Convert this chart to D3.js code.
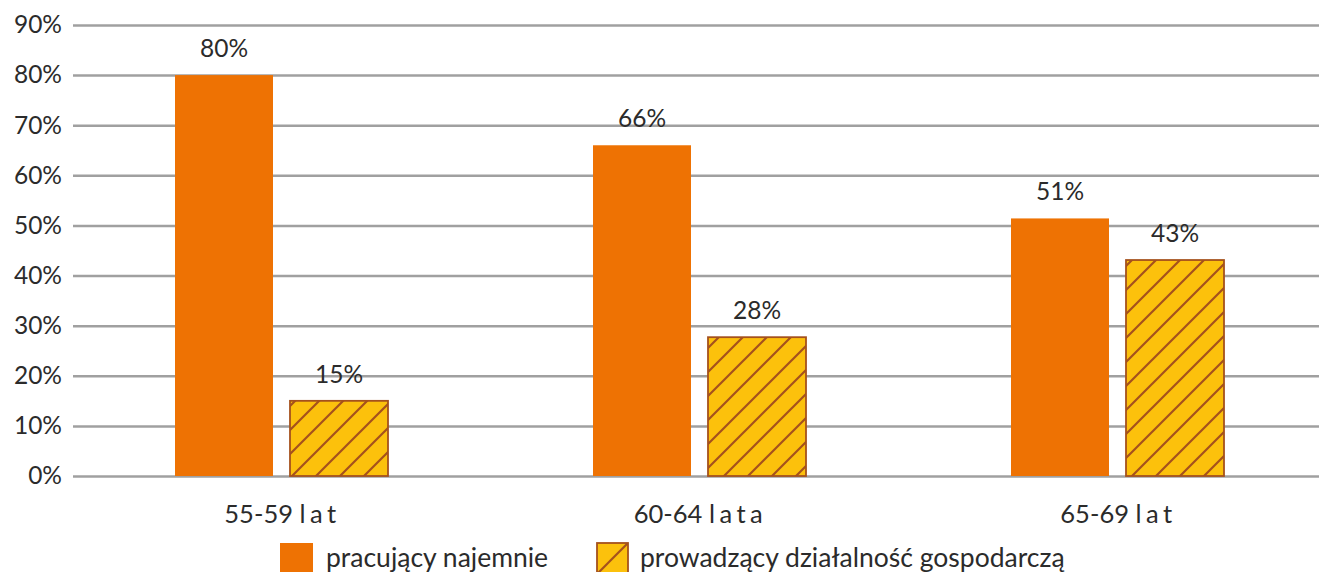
<!DOCTYPE html>
<html><head><meta charset="utf-8">
<script src="https://cdn.jsdelivr.net/npm/d3@7"></script>
<style>
body{margin:0;background:#fff;}
text{font-family:Lato,"Open Sans",sans-serif;fill:#2b2b2b;}
</style></head>
<body><svg id="c" width="1319" height="572"></svg>
<script>
const categories = ["55-59", "60-64", "65-69"];
const categorySuffix = ["lat", "lata", "lat"];
const seriesNames = ["pracujący najemnie", "prowadzący działalność gospodarczą"];
const employed = [80, 66, 51.4];
const selfEmployed = [15, 27.7, 43.1];
const valueLabels = [["80%", "66%", "51%"], ["15%", "28%", "43%"]];
const yTicks = [0, 10, 20, 30, 40, 50, 60, 70, 80, 90];

(function(){
const svg = d3.select("#c");
const mLeft = 73, mRight = 1319, mTop = 25, mBottom = 476;
const orange = "#ee7203", yellow = "#fcc10c", brown = "#a5511c";

const defs = svg.append("defs");
const pat = defs.append("pattern").attr("id","hatch").attr("patternUnits","userSpaceOnUse")
  .attr("width",24).attr("height",24);
pat.append("rect").attr("width",24).attr("height",24).attr("fill",yellow);
pat.append("path").attr("d","M-6,6 L6,-6 M0,24 L24,0 M18,30 L30,18").attr("stroke",brown).attr("stroke-width",2.2);

const x = d3.scaleBand().domain(categories).range([72.5, 1326.5]).paddingInner(0).paddingOuter(0);
const y = d3.scaleLinear().domain([0, 90]).range([mBottom, mTop]);

const yAxis = d3.axisLeft(y).tickValues(yTicks).tickFormat(d => d + "%").tickSize(-(mRight-mLeft)).tickPadding(11);
const ga = svg.append("g").attr("transform",`translate(${mLeft},0)`).call(yAxis);
ga.select(".domain").remove();
ga.selectAll(".tick line").attr("stroke","#a0a0a0").attr("stroke-width",2.5);
ga.selectAll(".tick text").attr("font-size",24.5).attr("fill","#2b2b2b").attr("font-family","Lato");

const barW = 98, gap = 17;
const series = [employed, selfEmployed];
series.forEach((vals, si) => {
  const g = svg.append("g");
  categories.forEach((c, i) => {
    const cx = x(c) + x.bandwidth()/2;
    const bx = si === 0 ? cx - gap/2 - barW : cx + gap/2;
    const v = vals[i];
    g.append("rect").attr("x", bx).attr("y", y(v)).attr("width", barW).attr("height", y(0) - y(v))
      .attr("fill", si === 0 ? orange : "url(#hatch)")
      .attr("stroke", si === 0 ? "none" : brown).attr("stroke-width", si === 0 ? 0 : 1.8);
    g.append("text").attr("x", bx + barW/2).attr("y", y(v) - 18).attr("text-anchor","middle")
      .attr("font-size",24.5).text(valueLabels[si][i]);
  });
});

categories.forEach((c, i) => {
  const t = svg.append("text").attr("x", x(c) + x.bandwidth()/2 + 1).attr("y", 523).attr("text-anchor","middle").attr("font-size",25.5);
  t.append("tspan").text(c + " ");
  t.append("tspan").attr("letter-spacing","4.5px").text(categorySuffix[i]);
});

const lg = svg.append("g");
lg.append("rect").attr("x",280).attr("y",543).attr("width",33).attr("height",33).attr("fill",orange);
lg.append("text").attr("x",326).attr("y",567).attr("font-size",26.5).text(seriesNames[0]);
const lp = defs.append("pattern").attr("id","hatch2").attr("patternUnits","userSpaceOnUse")
  .attr("x",597).attr("y",543).attr("width",31).attr("height",31);
lp.append("rect").attr("width",31).attr("height",31).attr("fill",yellow);
lp.append("path").attr("d","M0,31 L31,0").attr("stroke",brown).attr("stroke-width",2.2);
lg.append("rect").attr("x",597).attr("y",543).attr("width",31).attr("height",31).attr("fill","url(#hatch2)")
  .attr("stroke",brown).attr("stroke-width",1.8);
lg.append("text").attr("x",640).attr("y",567).attr("font-size",26.5).text(seriesNames[1]);
})();
</script></body></html>
